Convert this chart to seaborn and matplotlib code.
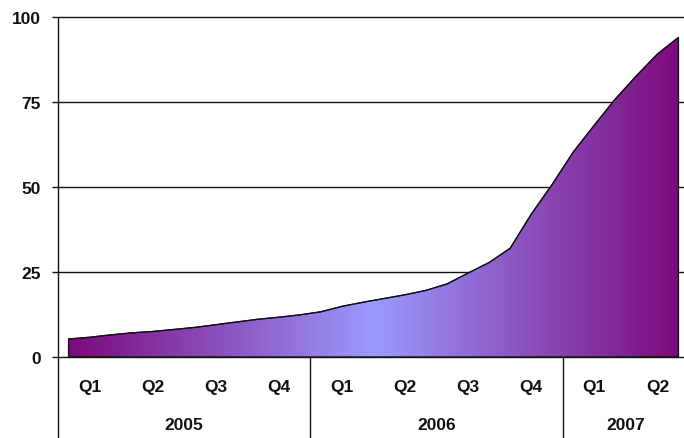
import numpy as np
import pandas as pd
import matplotlib
matplotlib.use("Agg")
import matplotlib.pyplot as plt
from matplotlib.colors import LinearSegmentedColormap
import seaborn as sns

# Monthly values, Jan 2005 .. Jun 2007
values = [5.3, 5.8, 6.5, 7.1, 7.5, 8.1, 8.7, 9.5, 10.3, 11.1, 11.7, 12.4,
          13.3, 14.9, 16.1, 17.2, 18.3, 19.6, 21.5, 24.7, 27.8, 32.0,
          42.0, 50.8, 60.3, 68.2, 75.9, 82.7, 89.1, 94.0]
months = list(range(len(values)))
quarter_labels = ["Q1", "Q2", "Q3", "Q4", "Q1", "Q2", "Q3", "Q4", "Q1", "Q2"]
years = ["2005", "2006", "2007"]
quarters_per_year = [4, 4, 2]
y_ticks = [0, 25, 50, 75, 100]

df = pd.DataFrame({"month": months, "value": values})

sns.set_theme(style="white")
plt.rcParams["font.family"] = ["Liberation Sans", "DejaVu Sans"]

W, H = 684, 439
fig = plt.figure(figsize=(W / 100, H / 100), dpi=100)
fig.patch.set_facecolor("white")
ax_left, ax_bottom_px, ax_top_px = 58, 358, 18
ax_width_px = 631
ax = fig.add_axes([ax_left / W, (H - ax_bottom_px) / H, ax_width_px / W,
                   (ax_bottom_px - ax_top_px) / H])

ink = "#111111"
fs = 12.5

# horizontal gridlines behind the area
ax.hlines(y_ticks[1:], -0.5, 29.5, colors=ink, linewidth=1.0, zorder=1, clip_on=False)

# area outline and gradient fill
poly = ax.fill_between(df["month"], df["value"], 0, facecolor="none",
                       edgecolor=ink, linewidth=0.9, zorder=3)
sns.lineplot(data=df, x="month", y="value", color=ink, linewidth=0.9, ax=ax, zorder=4)

cmap = LinearSegmentedColormap.from_list("violet_band", ["#7c0a7c", "#9a9aff", "#7c0a7c"])
grad = np.linspace(0, 1, 512).reshape(1, -1)
im = ax.imshow(grad, cmap=cmap, extent=[months[0], months[-1], 0, 100],
               aspect="auto", origin="lower", zorder=2, interpolation="bilinear")
im.set_clip_path(poly.get_paths()[0], transform=ax.transData)

ax.set_xlim(-0.5, 29.5)
ax.set_ylim(0, 100)
ax.set_xlabel("")
ax.set_ylabel("")

# y axis ticks and labels
ax.set_yticks(y_ticks)
ax.set_yticklabels([str(v) for v in y_ticks], fontsize=fs, fontweight="bold", color=ink)
ax.tick_params(axis="y", left=True, length=4.3, width=1.0, color=ink, pad=8)
ax.set_xticks([])
for s in ["top", "right", "left", "bottom"]:
    ax.spines[s].set_visible(False)

below = -(H - ax_bottom_px) / (ax_bottom_px - ax_top_px)
# baseline and left axis line (extends through the category rows)
ax.plot([0, 1], [0, 0], transform=ax.transAxes, color=ink, lw=1.0, clip_on=False, zorder=5)
ax.plot([0, 0], [1, below], transform=ax.transAxes, color=ink, lw=1.0, clip_on=False, zorder=5)

trans = ax.get_xaxis_transform()
q_y = -(388 - ax_bottom_px) / (ax_bottom_px - ax_top_px)
yr_y = -(426 - ax_bottom_px) / (ax_bottom_px - ax_top_px)
for q, lab in enumerate(quarter_labels):
    ax.text(3 * q + 1, q_y, lab, transform=trans, ha="center", va="center",
            fontsize=fs, fontweight="bold", color=ink)

start = 0
for yr, nq in zip(years, quarters_per_year):
    end = start + nq
    ax.text((3 * start + 3 * end) / 2 - 0.5, yr_y, yr, transform=trans, ha="center",
            va="center", fontsize=fs, fontweight="bold", color=ink)
    if start > 0:
        ax.plot([3 * start - 0.5] * 2, [0, below], transform=trans, color=ink,
                lw=1.0, clip_on=False)
    start = end

fig.savefig("out.png", dpi=100, facecolor="white")
